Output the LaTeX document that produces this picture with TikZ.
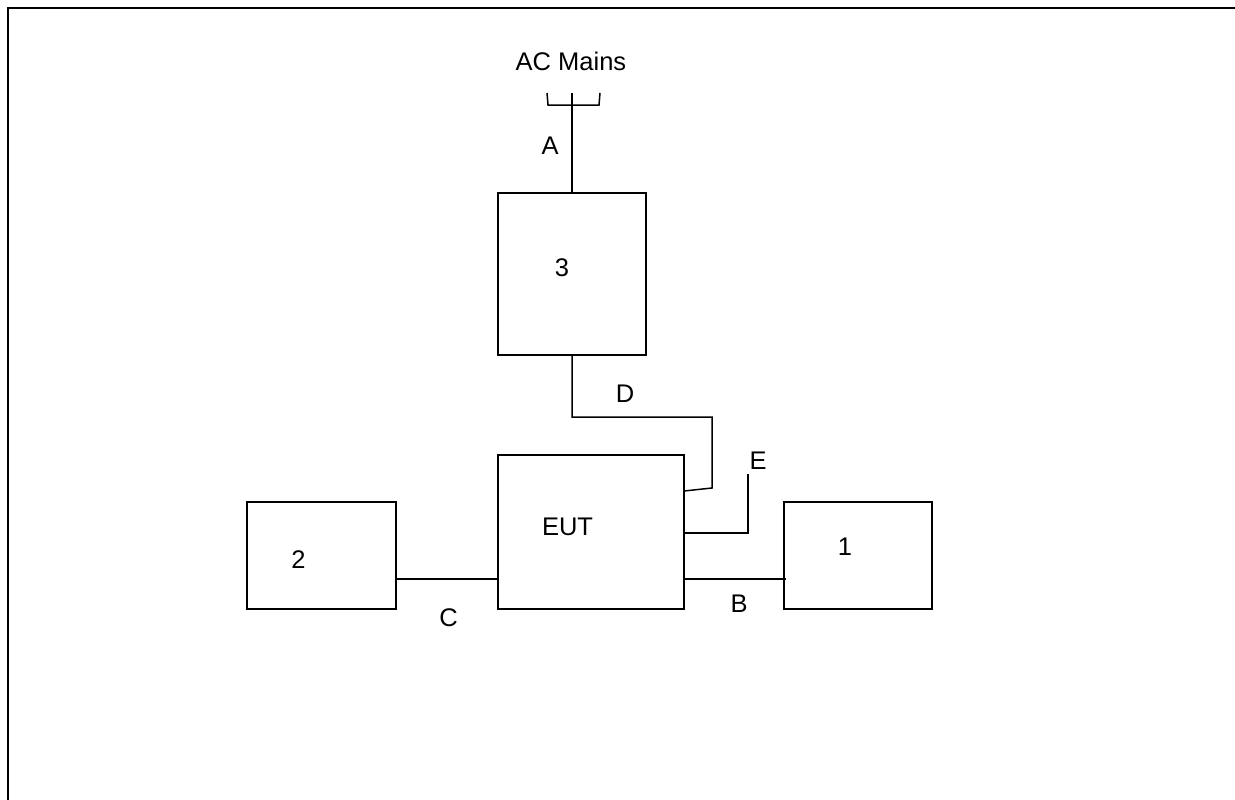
\documentclass[tikz,border=0pt]{standalone}
\usepackage{fontspec}
\setmainfont{Liberation Sans}
\begin{document}
\begin{tikzpicture}[x=1pt,y=-1pt,
  box/.style={draw,line width=1.5pt,inner sep=0pt},
  lbl/.style={font=\fontsize{25.5}{28}\selectfont,inner sep=0pt},
  wire/.style={line width=1.5pt}]
\useasboundingbox (0,0) rectangle (1235,800);
\draw[line width=2.5pt] (8,801) -- (8,8) -- (1236,8);
% boxes
\node[box,minimum width=148pt,minimum height=162pt] (b3) at (572,274) {};
\node[box,minimum width=186pt,minimum height=154pt] (eut) at (591,532) {};
\node[box,minimum width=149pt,minimum height=107pt] (b2) at (321.5,555.5) {};
\node[box,minimum width=148pt,minimum height=107pt] (b1) at (858,555.5) {};
% labels
\node[lbl] (tac) at (571,61.5) {AC Mains};
\node[lbl] (ta) at (550,146) {A};
\node[lbl] (t3) at (562,268) {3};
\node[lbl] (td) at (625,394) {D};
\node[lbl] (teut) at (567.5,526.5) {EUT};
\node[lbl] (t2) at (298.5,560) {2};
\node[lbl] (t1) at (845,546.5) {1};
\node[lbl] (tc) at (448.5,617.5) {C};
\node[lbl] (tb) at (739,604) {B};
\node[lbl] (te) at (758,461) {E};
% plug
\coordinate (plug) at (572,93);
\coordinate (pl) at (548,105);
\coordinate (pr) at (599,105);
\draw[wire] (547,93) -- (pl) -- (pr) -- (600,93);
\draw[wire] (plug) -- (b3.north);
% D
\coordinate (d1) at (572,417);
\coordinate (d2) at (712,417);
\coordinate (d3) at (712,488);
\coordinate (d4) at (684,491);
\draw[wire] (b3.south) -- (d1) -- (d2) -- (d3) -- (d4);
% E
\coordinate (e0) at (684,533);
\coordinate (e1) at (748,533);
\coordinate (e2) at (748,474);
\draw[wire] (e0) -- (e1) -- (e2);
% C and B
\draw[wire] (b2.east |- 0,579) -- (eut.west |- 0,579);
\coordinate (bend) at (786,579);
\draw[wire] (eut.east |- 0,579) -- (bend);
\end{tikzpicture}
\end{document}
